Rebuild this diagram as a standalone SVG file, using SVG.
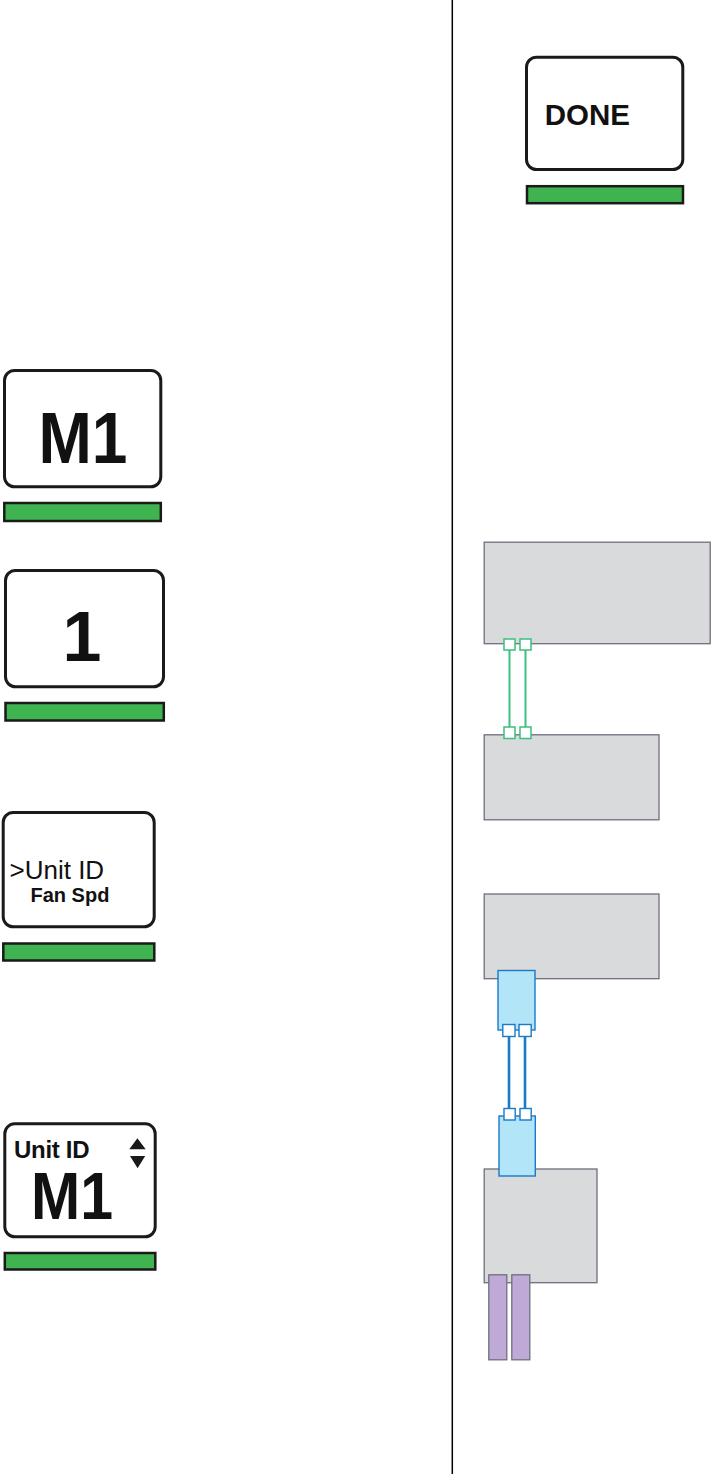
<svg xmlns="http://www.w3.org/2000/svg" width="711" height="1474" viewBox="0 0 711 1474">
<style>
.scr{fill:#fff;stroke:#1a1a1a;stroke-width:3}
.bar{fill:#3fb34f;stroke:#1a1a1a;stroke-width:2.5}
.t{font-family:"Liberation Sans",Arial,sans-serif;fill:#111}
.b{font-weight:bold}
.box{fill:#d9dadc;stroke:#6f6f7d;stroke-width:1.3}
.gl{stroke:#3dbf7e;stroke-width:2;fill:none}
.gs{fill:#fff;stroke:#3dbf7e;stroke-width:1.5}
.bl{stroke:#1a7ac8;stroke-width:2.6;fill:none}
.bs{fill:#fff;stroke:#1a7ac8;stroke-width:1.4}
.bb{fill:#b3e5f9;stroke:#1a7ac8;stroke-width:1.4}
.pp{fill:#bfa9d6;stroke:#6f6f7d;stroke-width:1.3}
</style>
<rect width="711" height="1474" fill="#fff"/>
<line x1="452.3" y1="0" x2="452.3" y2="1474" stroke="#000" stroke-width="1.5"/>

<g id="done">
<rect class="scr" x="526.5" y="57.2" width="156.3" height="112.3" rx="10"/>
<rect class="bar" x="527" y="186.2" width="156" height="17"/>
<text class="t b" x="544.8" y="125" font-size="29.5">DONE</text>
</g>

<g id="m1">
<rect class="scr" x="4.5" y="370.5" width="156.3" height="116.3" rx="10"/>
<rect class="bar" x="4.3" y="503" width="156.5" height="18"/>
<text class="t b" x="83" y="463" font-size="72" text-anchor="middle" textLength="89" lengthAdjust="spacingAndGlyphs">M1</text>
</g>

<g id="one">
<rect class="scr" x="5.5" y="570.5" width="158" height="116.3" rx="10"/>
<rect class="bar" x="5.5" y="703" width="158.3" height="17.5"/>
<text class="t b" x="82" y="661" font-size="70" text-anchor="middle">1</text>
</g>

<g id="menu">
<rect class="scr" x="3.2" y="812.5" width="151" height="114.3" rx="10"/>
<rect class="bar" x="3.3" y="943.5" width="151" height="17"/>
<text class="t" x="9.5" y="879" font-size="26">&gt;Unit ID</text>
<text class="t b" x="30.5" y="902" font-size="20">Fan Spd</text>
</g>

<g id="unitid">
<rect class="scr" x="4.8" y="1123.8" width="150.4" height="113" rx="10"/>
<rect class="bar" x="4.8" y="1253" width="150.5" height="16.5"/>
<text class="t b" x="14" y="1158.3" font-size="24" letter-spacing="-0.3">Unit ID</text>
<text class="t b" x="72" y="1219.3" font-size="66" text-anchor="middle" textLength="82" lengthAdjust="spacingAndGlyphs">M1</text>
<path d="M137.4 1138.3 L129.3 1149.3 L145.7 1149.3 Z M130 1156 L145.2 1156 L137.6 1168.3 Z" fill="#1a1a1a"/>
</g>

<g id="box1"><rect class="box" x="484.2" y="542.2" width="226" height="101.5"/></g>
<g id="box2"><rect class="box" x="484.2" y="734.8" width="174.8" height="85"/></g>
<g id="box3"><rect class="box" x="484.2" y="894" width="174.8" height="84.7"/></g>
<g id="box4"><rect class="box" x="484.2" y="1169" width="112.8" height="113.7"/></g>
<g id="blue1"><rect class="bb" x="498" y="970.5" width="37" height="59.5"/></g>
<g id="blue2"><rect class="bb" x="499" y="1116" width="36.3" height="60"/></g>
<g id="purple">
<rect class="pp" x="488.8" y="1274.8" width="18" height="85"/>
<rect class="pp" x="511.8" y="1274.8" width="18" height="85"/>
</g>

<g id="connectors">
<line class="gl" x1="509.5" y1="650" x2="509.5" y2="727"/>
<line class="gl" x1="525.5" y1="650" x2="525.5" y2="727"/>
<rect class="gs" x="504" y="639" width="11" height="11"/>
<rect class="gs" x="520" y="639" width="11" height="11"/>
<rect class="gs" x="504" y="727" width="11" height="11.5"/>
<rect class="gs" x="520" y="727" width="11" height="11.5"/>
<line class="bl" x1="509" y1="1036.5" x2="509" y2="1108.5"/>
<line class="bl" x1="525" y1="1036.5" x2="525" y2="1108.5"/>
<rect class="bs" x="502.8" y="1024.5" width="12.2" height="12"/>
<rect class="bs" x="519" y="1024.5" width="12.2" height="12"/>
<rect class="bs" x="504" y="1108.5" width="11.2" height="11.5"/>
<rect class="bs" x="520" y="1108.5" width="11.2" height="11.5"/>
</g>
</svg>
